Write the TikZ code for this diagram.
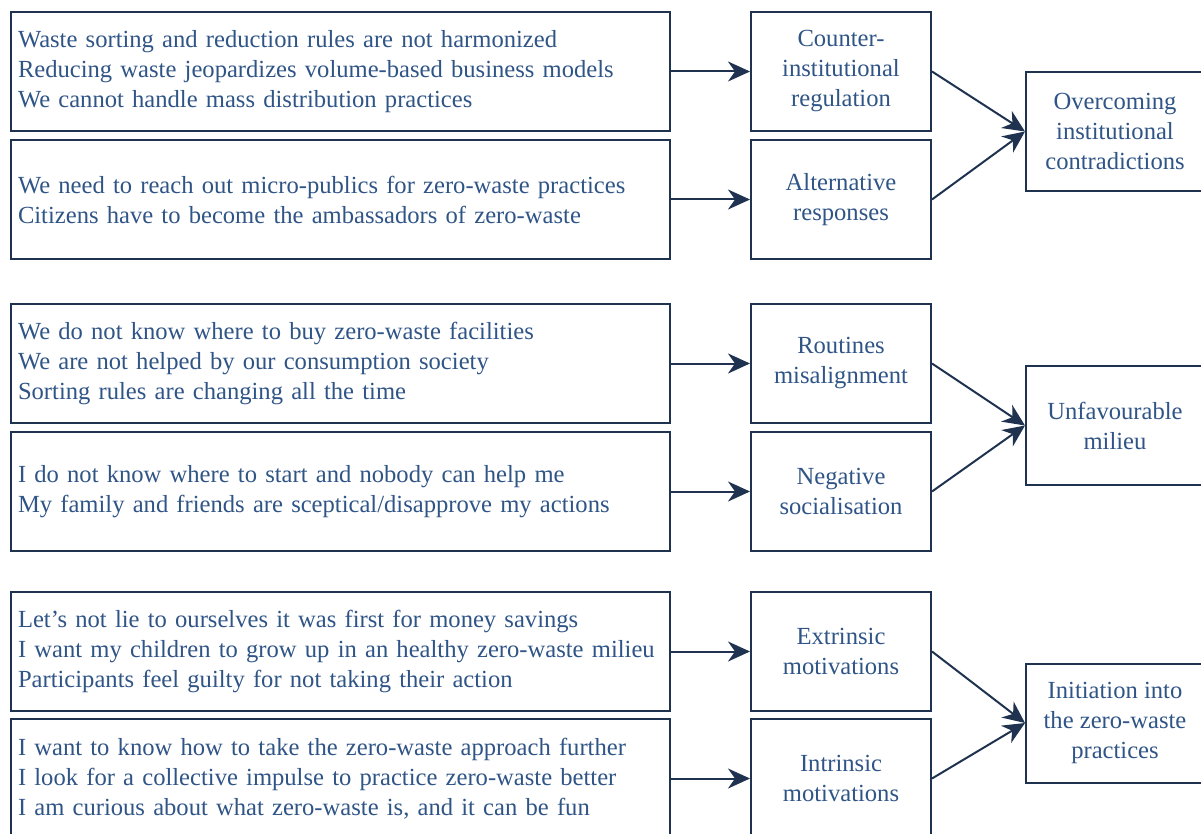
\documentclass[tikz,border=0pt]{standalone}
\usepackage{fontspec}
\setmainfont{Liberation Serif}
\usetikzlibrary{arrows.meta}
\definecolor{frame}{HTML}{1F3350}
\definecolor{ink}{HTML}{2F5486}
\begin{document}
\begin{tikzpicture}[x=1pt,y=-1pt,
box/.style={draw=frame,line width=2pt,minimum height=119pt,text=ink,inner sep=0pt,font=\fontsize{24.6}{30}\selectfont},
quote/.style={box,minimum width=659pt,text width=645pt,align=left},
cat/.style={box,minimum width=180pt,align=center},
theme/.style={box,minimum width=178pt,align=center},
arr/.style={draw=frame,line width=2pt,-{Stealth[length=22pt,width=20pt,inset=7pt]}}]
\newcommand{\Pair}[4]{\node[quote](q#1)at(340.5,#2){#3};
\node[cat](c#1)at(841,#2){#4};
\draw[arr](q#1)--(c#1);}
\useasboundingbox(0,0)rectangle(1201,834);
% institutional
\Pair{1}{71.5}{Waste sorting and reduction rules are not harmonized\\Reducing waste jeopardizes volume-based business models\\We cannot handle mass distribution practices}{Counter-\\institutional\\regulation}
\Pair{2}{199.5}{We need to reach out micro-publics for zero-waste practices\\Citizens have to become the ambassadors of zero-waste}{Alternative\\responses}
\node[theme](t1)at(1115,131.5){Overcoming\\institutional\\contradictions};
% milieu
\Pair{3}{363.5}{We do not know where to buy zero-waste facilities\\We are not helped by our consumption society\\Sorting rules are changing all the time}{Routines\\misalignment}
\Pair{4}{491.5}{I do not know where to start and nobody can help me\\My family and friends are sceptical/disapprove my actions}{Negative\\socialisation}
\node[theme](t2)at(1115,425.5){Unfavourable\\milieu};
% motivations
\Pair{5}{651.5}{Let's not lie to ourselves it was first for money savings\\I want my children to grow up in an healthy zero-waste milieu\\Participants feel guilty for not taking their action}{Extrinsic\\motivations}
\Pair{6}{778.5}{I want to know how to take the zero-waste approach further\\I look for a collective impulse to practice zero-waste better\\I am curious about what zero-waste is, and it can be fun}{Intrinsic\\motivations}
\node[theme](t3)at(1115,723){Initiation into\\the zero-waste\\practices};
\foreach \a/\b in {1/1,2/1,3/2,4/2,5/3,6/3}
\draw[arr](c\a.east)--(t\b.west);
\end{tikzpicture}
\end{document}
